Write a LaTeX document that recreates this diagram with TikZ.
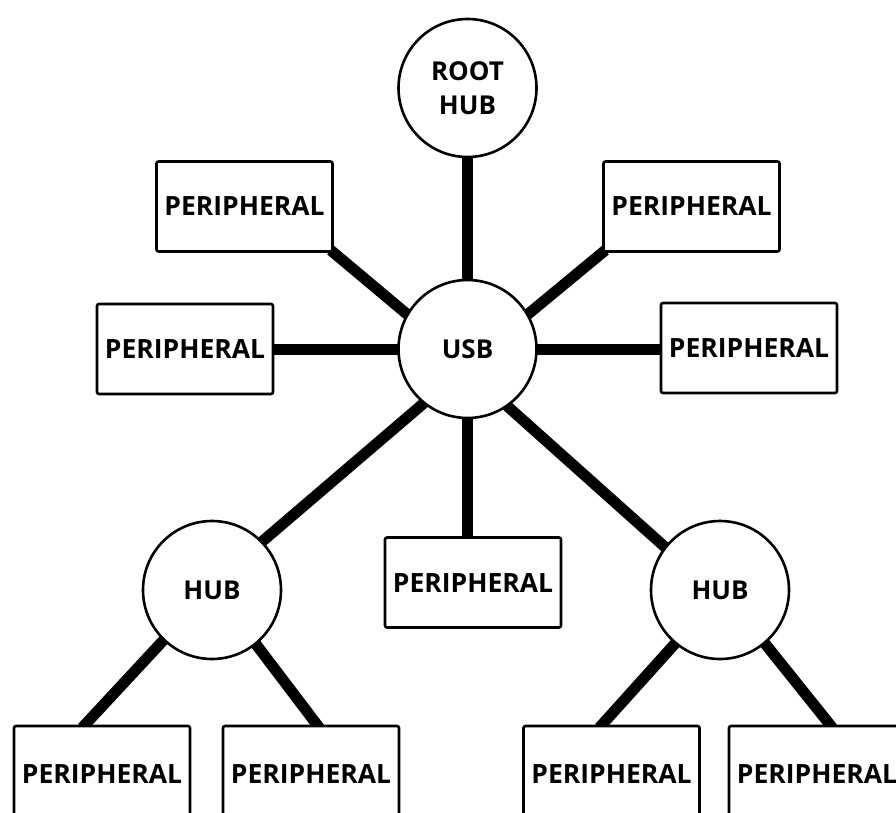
\documentclass[tikz,border=0pt]{standalone}
\usepackage{fontspec}
\setmainfont{Open Sans}
\usetikzlibrary{backgrounds}
\tikzset{
  hubnode/.style={circle, draw, line width=2.6pt, fill=white, minimum size=138pt,
    inner sep=0pt, align=center, font=\fontsize{26}{34}\selectfont\bfseries},
  devbox/.style={rectangle, draw, line width=2.6pt, rounded corners=2pt, fill=white,
    minimum width=176pt, minimum height=90pt, inner sep=0pt,
    font=\fontsize{26.5}{30}\selectfont\bfseries},
  tallbox/.style={devbox, minimum height=96pt},
  link/.style={line width=11pt, shorten <=-4pt, shorten >=-4pt},
}
\begin{document}
\begin{tikzpicture}[x=1pt,y=-1pt]
\clip (0,0) rectangle (896,813);

% hubs
\node[hubnode] (root) at (467.5,88) {ROOT\\HUB};
\node[hubnode] (usb)  at (467.5,349) {USB};
\node[hubnode] (hubL) at (212,590) {HUB};
\node[hubnode] (hubR) at (720,590) {HUB};

% peripherals around the USB hub
\node[devbox] (pTL) at (244.5,206.5) {PERIPHERAL};
\node[devbox] (pTR) at (691.5,206.5) {PERIPHERAL};
\node[devbox] (pML) at (185,349) {PERIPHERAL};
\node[devbox] (pMR) at (749,348) {PERIPHERAL};
\node[devbox] (pC)  at (473,582.5) {PERIPHERAL};

% peripherals below the two hubs
\node[tallbox] (bL1) at (102,774) {PERIPHERAL};
\node[tallbox] (bL2) at (311,774) {PERIPHERAL};
\node[tallbox] (bR1) at (611.5,774) {PERIPHERAL};
\node[tallbox] (bR2) at (817,774) {PERIPHERAL};

\coordinate (cC)  at (usb.south |- pC.north);
\coordinate (cML) at (usb.west -| pML.east);
\coordinate (cMR) at (usb.east -| pMR.west);
\coordinate (cL1) at ([xshift=-17pt]bL1.north);
\coordinate (cL2) at ([xshift=6pt]bL2.north);
\coordinate (cR1) at ([xshift=-9.5pt]bR1.north);
\coordinate (cR2) at ([xshift=13pt]bR2.north);

\begin{pgfonlayer}{background}
  \fill[white] (0,0) rectangle (896,813);
  \draw[link] (root.south) -- (usb.north);
  \draw[link] (usb.150) -- (pTL.south east);
  \draw[link] (usb.30) -- (pTR.south west);
  \draw[link] (usb.west) -- (cML);
  \draw[link] (usb.east) -- (cMR);
  \draw[link] (usb.south) -- (cC);
  \draw[link] (usb.231) -- (hubL.44);
  \draw[link] (usb.305) -- (hubR.142);
  \draw[link] (hubL.226) -- (cL1);
  \draw[link] (hubL.309) -- (cL2);
  \draw[link] (hubR.230) -- (cR1);
  \draw[link] (hubR.310) -- (cR2);
\end{pgfonlayer}
\end{tikzpicture}
\end{document}
